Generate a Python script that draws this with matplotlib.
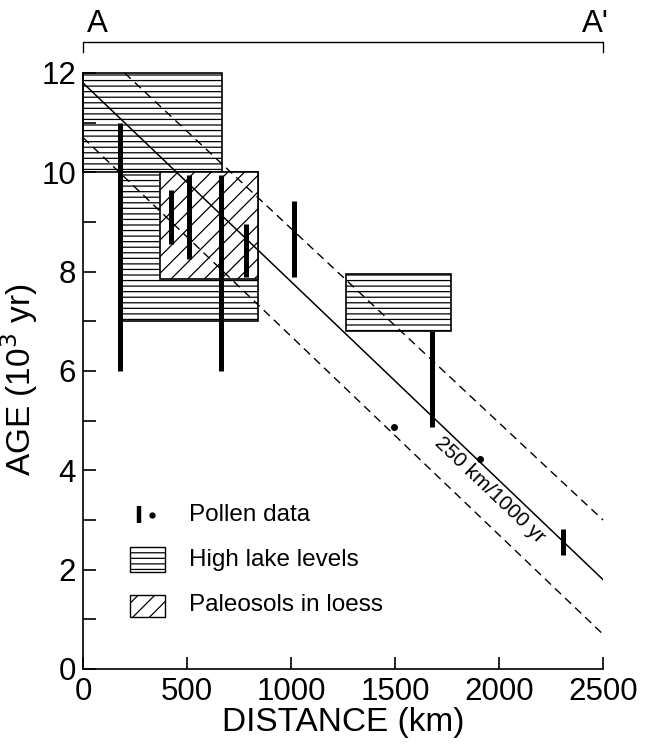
import numpy as np
import matplotlib
matplotlib.use("Agg")
import matplotlib.pyplot as plt
from matplotlib.patches import Rectangle

plt.rcParams['font.family'] = ['Liberation Sans', 'DejaVu Sans']
plt.rcParams['hatch.linewidth'] = 0.9

# ---- data ----
lake_x0 = [0, 180, 1265]
lake_x1 = [670, 840, 1770]
lake_y0 = [10.0, 7.0, 6.8]
lake_y1 = [12.0, 10.0, 7.95]

paleo_x0 = [370]
paleo_x1 = [840]
paleo_y0 = [7.85]
paleo_y1 = [10.0]

pollen_x = [180, 425, 510, 665, 785, 1014, 1676, 2310]
pollen_lo = [6.0, 8.55, 8.25, 6.0, 7.9, 7.9, 4.87, 2.3]
pollen_hi = [11.0, 9.65, 9.95, 9.95, 8.95, 9.43, 6.8, 2.82]

dot_x = [1495, 1909]
dot_y = [4.88, 4.23]

trend_x = [0, 2500]
trend_y = [11.8, 1.8]
upper_x = [200, 2500]
upper_y = [12.0, 3.0]
lower_x = [0, 2500]
lower_y = [10.7, 0.7]

x_ticks = [0, 500, 1000, 1500, 2000, 2500]
y_major = [0, 2, 4, 6, 8, 10, 12]
y_minor = [1, 3, 5, 7, 9, 11]

W, H = 647, 748
fig = plt.figure(figsize=(W / 100, H / 100), dpi=100)
ax = fig.add_axes([83 / W, 1 - 669 / H, 520 / W, 596 / H])
ax.set_xlim(0, 2500)
ax.set_ylim(0, 12)

for s in ['top', 'right']:
    ax.spines[s].set_visible(False)
for s in ['left', 'bottom']:
    ax.spines[s].set_linewidth(1.2)

ax.set_xticks(x_ticks)
ax.set_xticklabels([str(v) for v in x_ticks])
ax.set_yticks(y_major)
ax.set_yticklabels([str(v) for v in y_major])
ax.set_yticks(y_minor, minor=True)
ax.tick_params(axis='both', which='both', direction='in', length=9, width=1.2,
               labelsize=22.5)
ax.tick_params(axis='x', pad=6)
ax.tick_params(axis='y', pad=5)

ax.set_xlabel('DISTANCE (km)', fontsize=24, labelpad=0)
ax.set_ylabel('AGE (10$^3$ yr)', fontsize=24)
ax.yaxis.set_label_coords(-0.082, 0.485)

# lake boxes
for x0, x1, y0, y1 in zip(lake_x0, lake_x1, lake_y0, lake_y1):
    ax.add_patch(Rectangle((x0, y0), x1 - x0, y1 - y0, facecolor='white',
                           edgecolor='black', hatch='---', lw=1.2, zorder=1,
                           clip_on=False))
# paleosol boxes
for x0, x1, y0, y1 in zip(paleo_x0, paleo_x1, paleo_y0, paleo_y1):
    ax.add_patch(Rectangle((x0, y0), x1 - x0, y1 - y0, facecolor='white',
                           edgecolor='black', hatch='//', lw=1.2, zorder=2))

# trend lines
ax.plot(trend_x, trend_y, color='black', lw=1.1, zorder=3)
ax.plot(upper_x, upper_y, color='black', lw=1.0, ls=(0, (6, 4)), zorder=3,
        clip_on=False)
ax.plot(lower_x, lower_y, color='black', lw=1.0, ls=(0, (6, 4)), zorder=3)

# pollen data
ax.vlines(pollen_x, pollen_lo, pollen_hi, color='black', lw=3.6, zorder=4)
ax.plot(dot_x, dot_y, 'o', color='black', ms=4, zorder=4)

# rate label along the line
p0 = ax.transData.transform((trend_x[0], trend_y[0]))
p1 = ax.transData.transform((trend_x[1], trend_y[1]))
ang = np.degrees(np.arctan2(p1[1] - p0[1], p1[0] - p0[0]))
ax.text(1957, 3.6, '250 km/1000 yr', rotation=ang, rotation_mode='anchor',
        ha='center', va='center', fontsize=15, zorder=5)

# A - A' bracket
ax.plot([0, 0, 1, 1], [1.035, 1.052, 1.052, 1.035], color='black', lw=1.0,
        transform=ax.transAxes, clip_on=False)
ax.text(0.027, 1.083, 'A', transform=ax.transAxes, ha='center', va='center',
        fontsize=22.5)
ax.text(0.985, 1.083, "A'", transform=ax.transAxes, ha='center', va='center',
        fontsize=22.5)

# legend (manual)
T = ax.transAxes
ax.plot([0.1085, 0.1085], [0.245, 0.273], color='black', lw=3.2, transform=T,
        solid_capstyle='butt')
ax.plot([0.1327], [0.258], 'o', color='black', ms=3.5, transform=T)
ax.text(0.204, 0.258, 'Pollen data', transform=T, va='center', ha='left',
        fontsize=17.5)
ax.add_patch(Rectangle((0.0904, 0.163), 0.068, 0.042, transform=T,
                       facecolor='white', edgecolor='black', hatch='---',
                       lw=1.0))
ax.text(0.204, 0.183, 'High lake levels', transform=T, va='center',
        ha='left', fontsize=17.5)
ax.add_patch(Rectangle((0.0904, 0.087), 0.068, 0.037, transform=T,
                       facecolor='white', edgecolor='black', hatch='//',
                       lw=1.0))
ax.text(0.204, 0.108, 'Paleosols in loess', transform=T, va='center',
        ha='left', fontsize=17.5)

fig.savefig('out.png', dpi=100)
